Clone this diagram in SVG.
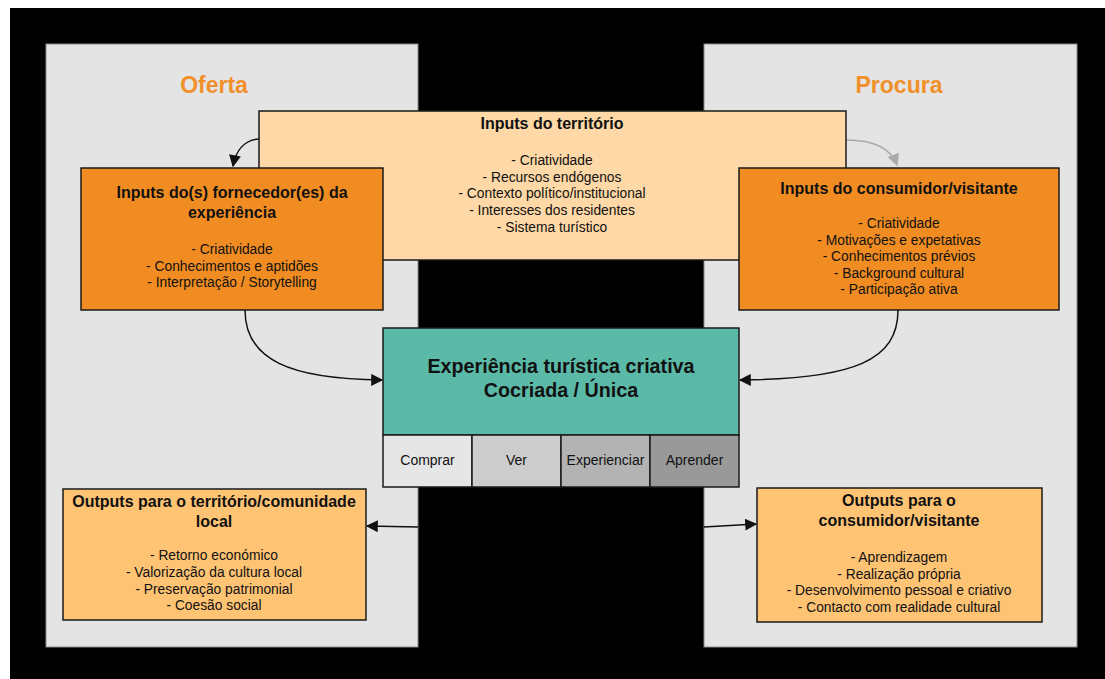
<svg xmlns="http://www.w3.org/2000/svg" width="1105" height="679" viewBox="0 0 1105 679">
<defs>
<style>
text{font-family:"Liberation Sans",Arial,sans-serif;fill:#111;text-anchor:middle}
.t{font-weight:bold;font-size:16px}
.i{font-size:13.8px}
.h{font-weight:bold;font-size:23px;fill:#F0902A}
.box{stroke:#1a1a1a;stroke-width:1.5}
.panel{fill:#E4E4E4;stroke:#8a8a8a;stroke-width:1}
.c{fill:none;stroke:#111;stroke-width:1.5}
.cell{font-size:14px}
</style>
<marker id="ah" viewBox="0 0 10 10" refX="9" refY="5" markerWidth="15" markerHeight="12" orient="auto" markerUnits="userSpaceOnUse"><path d="M0,0 L10,5 L0,10 Z" fill="#111"/></marker>
<marker id="ahg" viewBox="0 0 10 10" refX="9" refY="5" markerWidth="15" markerHeight="12" orient="auto" markerUnits="userSpaceOnUse"><path d="M0,0 L10,5 L0,10 Z" fill="#aaa"/></marker>
</defs>
<rect x="0" y="0" width="1105" height="679" fill="#fff"/>
<rect x="10" y="8" width="1095" height="671" fill="#000"/>
<g id="panel-oferta"><rect class="panel" x="46" y="44" width="372" height="603"/><text class="h" x="214" y="93">Oferta</text></g>
<g id="panel-procura"><rect class="panel" x="704" y="44" width="373" height="603"/><text class="h" x="899" y="93">Procura</text></g>
<g id="connectors">
<path class="c" d="M259,139 C245,140 236,150 233,166" marker-end="url(#ah)"/>
<path d="M846,140 C870,140 890,146 897,165" fill="none" stroke="#aaa" stroke-width="1.5" marker-end="url(#ahg)"/>
<path class="c" d="M245,310 C245,360 290,379 382,380" marker-end="url(#ah)"/>
<path class="c" d="M898,310 C898,360 855,379 740,380" marker-end="url(#ah)"/>
<path class="c" d="M418,527 L367,526" marker-end="url(#ah)"/>
<path class="c" d="M704,527 L756,524" marker-end="url(#ah)"/>
</g>
<g id="inputs-territorio"><rect class="box" x="259" y="111" width="587" height="149" fill="#FED8A6"/>
<text class="t" x="552" y="129">Inputs do território</text>
<text class="i" x="552" y="165">- Criatividade</text>
<text class="i" x="552" y="182">- Recursos endógenos</text>
<text class="i" x="552" y="198">- Contexto político/institucional</text>
<text class="i" x="552" y="215">- Interesses dos residentes</text>
<text class="i" x="552" y="232">- Sistema turístico</text></g>
<g id="inputs-fornecedor"><rect class="box" x="81" y="168" width="302" height="142" fill="#F08C22"/>
<text class="t" x="232" y="198">Inputs do(s) fornecedor(es) da</text>
<text class="t" x="232" y="218">experiência</text>
<text class="i" x="232" y="254">- Criatividade</text>
<text class="i" x="232" y="271">- Conhecimentos e aptidões</text>
<text class="i" x="232" y="287">- Interpretação / Storytelling</text></g>
<g id="inputs-consumidor"><rect class="box" x="739" y="168" width="320" height="142" fill="#F08C22"/>
<text class="t" x="899" y="194">Inputs do consumidor/visitante</text>
<text class="i" x="899" y="228">- Criatividade</text>
<text class="i" x="899" y="245">- Motivações e expetativas</text>
<text class="i" x="899" y="261">- Conhecimentos prévios</text>
<text class="i" x="899" y="278">- Background cultural</text>
<text class="i" x="899" y="294">- Participação ativa</text></g>
<g id="experiencia"><rect class="box" x="383" y="328" width="356" height="107" fill="#5BB9A7"/>
<text x="561" y="373" style="font-weight:bold;font-size:19.7px">Experiência turística criativa</text>
<text x="561" y="397" style="font-weight:bold;font-size:19.7px">Cocriada / Única</text></g>
<g id="comprar"><rect class="box" x="383" y="435" width="89" height="52" fill="#E6E6E6"/><text class="cell" x="427.5" y="465">Comprar</text></g>
<g id="ver"><rect class="box" x="472" y="435" width="89" height="52" fill="#CCCCCC"/><text class="cell" x="516.5" y="465">Ver</text></g>
<g id="experienciar"><rect class="box" x="561" y="435" width="89" height="52" fill="#B3B3B3"/><text class="cell" x="605.5" y="465">Experienciar</text></g>
<g id="aprender"><rect class="box" x="650" y="435" width="89" height="52" fill="#999999"/><text class="cell" x="694.5" y="465">Aprender</text></g>
<g id="outputs-territorio"><rect class="box" x="63" y="489" width="303" height="131" fill="#FFC374"/>
<text class="t" x="214" y="507">Outputs para o território/comunidade</text>
<text class="t" x="214" y="527">local</text>
<text class="i" x="214" y="560">- Retorno económico</text>
<text class="i" x="214" y="577">- Valorização da cultura local</text>
<text class="i" x="214" y="594">- Preservação patrimonial</text>
<text class="i" x="214" y="610">- Coesão social</text></g>
<g id="outputs-consumidor"><rect class="box" x="757" y="488" width="285" height="134" fill="#FFC374"/>
<text class="t" x="899" y="506">Outputs para o</text>
<text class="t" x="899" y="526">consumidor/visitante</text>
<text class="i" x="899" y="562">- Aprendizagem</text>
<text class="i" x="899" y="579">- Realização própria</text>
<text class="i" x="899" y="595">- Desenvolvimento pessoal e criativo</text>
<text class="i" x="899" y="612">- Contacto com realidade cultural</text></g>
</svg>
